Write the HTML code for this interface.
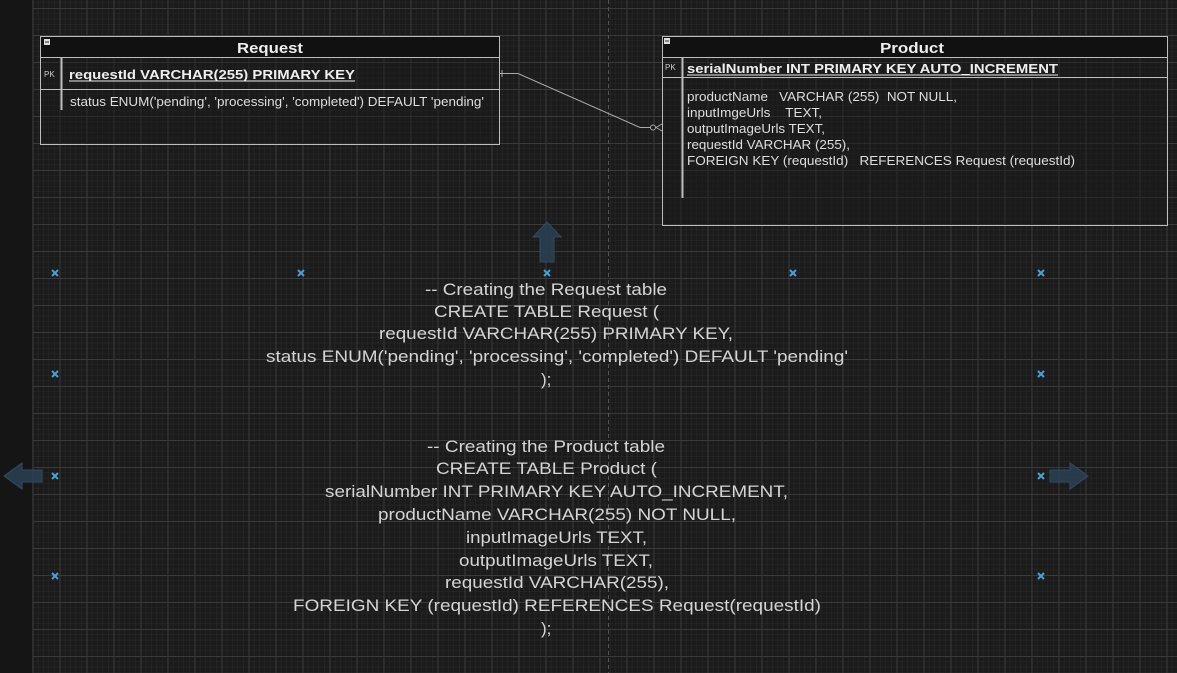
<!DOCTYPE html>
<html><head><meta charset="utf-8"><style>
html,body{margin:0;padding:0;width:1177px;height:673px;overflow:hidden;background:#1b1b1b}
svg{display:block}
text{font-family:"Liberation Sans",Arial,sans-serif}
</style></head><body>
<svg width="1177" height="673" viewBox="0 0 1177 673" xmlns="http://www.w3.org/2000/svg">
<defs>
<pattern id="minor" x="5.4" y="2.6" width="5.4" height="5.4" patternUnits="userSpaceOnUse">
<path d="M0 0H5.4M0 0V5.4" stroke="#2a2a2a" stroke-width="1" fill="none"/>
</pattern>
<pattern id="major" x="5.5" y="8" width="27" height="27" patternUnits="userSpaceOnUse">
<path d="M0 0.5H27M0.5 0V27" stroke="#3a3a3a" stroke-width="1" fill="none"/>
</pattern>
</defs>
<rect x="0" y="0" width="1177" height="673" fill="#1b1b1b"/>
<rect x="33" y="0" width="1144" height="673" fill="url(#minor)"/>
<rect x="33" y="0" width="1144" height="673" fill="url(#major)"/>
<rect x="0" y="0" width="32" height="673" fill="#151515"/>
<line x1="32.5" y1="0" x2="32.5" y2="673" stroke="#2e2e2e"/>
<line x1="608.5" y1="0" x2="608.5" y2="673" stroke="#555" stroke-dasharray="4 3"/>

<!-- Request table -->
<rect x="40.5" y="36.5" width="459" height="108" fill="#181818" fill-opacity="0.4" stroke="#bdbdbd"/>
<rect x="41" y="37" width="458" height="20" fill="#111"/>
<line x1="40" y1="57.5" x2="500" y2="57.5" stroke="#bdbdbd"/>
<line x1="40" y1="89.5" x2="500" y2="89.5" stroke="#bdbdbd"/>
<line x1="61.5" y1="57" x2="61.5" y2="110" stroke="#bdbdbd" stroke-width="2"/>
<rect x="44" y="39" width="6" height="6" fill="#ddd"/><rect x="45" y="41.5" width="4" height="1" fill="#333"/>
<text x="237" y="53" font-size="15" font-weight="bold" fill="#eee" textLength="66" lengthAdjust="spacingAndGlyphs">Request</text>
<text x="44" y="77" font-size="8" fill="#ccc">PK</text>
<text x="69" y="79" font-size="13" font-weight="bold" fill="#eee" textLength="286" lengthAdjust="spacingAndGlyphs"> requestId VARCHAR(255) PRIMARY KEY</text>
<line x1="69" y1="81" x2="355" y2="81" stroke="#eee"/>
<text x="70" y="106" font-size="12.5" fill="#ddd" textLength="414" lengthAdjust="spacingAndGlyphs">status ENUM('pending', 'processing', 'completed') DEFAULT 'pending'</text>

<!-- Product table -->
<rect x="662.5" y="36.5" width="505" height="189" fill="#181818" fill-opacity="0.4" stroke="#bdbdbd"/>
<rect x="663" y="37" width="504" height="20" fill="#111"/>
<line x1="662" y1="57.5" x2="1168" y2="57.5" stroke="#bdbdbd"/>
<line x1="662" y1="77.5" x2="1168" y2="77.5" stroke="#bdbdbd"/>
<line x1="682.5" y1="57" x2="682.5" y2="198" stroke="#bdbdbd" stroke-width="2"/>
<rect x="664" y="38" width="6" height="6" fill="#ddd"/><rect x="665" y="40.5" width="4" height="1" fill="#333"/>
<text x="880" y="53" font-size="15" font-weight="bold" fill="#eee" textLength="64" lengthAdjust="spacingAndGlyphs">Product</text>
<text x="665" y="70" font-size="8" fill="#ccc">PK</text>
<text x="687" y="73" font-size="13" font-weight="bold" fill="#eee" textLength="371" lengthAdjust="spacingAndGlyphs">serialNumber INT PRIMARY KEY AUTO_INCREMENT</text>
<line x1="687" y1="75" x2="1058" y2="75" stroke="#eee"/>
<g font-size="12.5" fill="#ddd">
<text x="687" y="101" xml:space="preserve" textLength="270" lengthAdjust="spacingAndGlyphs">productName   VARCHAR (255)  NOT NULL,</text>
<text x="687" y="117" xml:space="preserve" textLength="135" lengthAdjust="spacingAndGlyphs">inputImgeUrls    TEXT,</text>
<text x="687" y="133" textLength="138" lengthAdjust="spacingAndGlyphs">outputImageUrls TEXT,</text>
<text x="687" y="149" textLength="163" lengthAdjust="spacingAndGlyphs">requestId VARCHAR (255),</text>
<text x="687" y="165" xml:space="preserve" textLength="388" lengthAdjust="spacingAndGlyphs">FOREIGN KEY (requestId)   REFERENCES Request (requestId)</text>
</g>

<!-- connector -->
<path d="M500 73.5 H518 L640 127.5 H655" fill="none" stroke="#aaa" stroke-width="1"/>
<line x1="502" y1="70" x2="502" y2="77" stroke="#aaa"/>
<circle cx="653" cy="127.5" r="2.5" fill="#1b1b1b" stroke="#aaa"/>
<path d="M656 127.5 L662 124 M656 127.5 L662 131" stroke="#aaa" fill="none"/>

<!-- arrows -->
<path d="M540 262 V237 H533 L547 222 L561 237 H554 V262 Z" fill="#2a3f52" stroke="#34506a" opacity="0.9"/>
<path d="M42 470 H22 V463 L4 476 L22 489 V482 H42 Z" fill="#2a3f52" stroke="#34506a" opacity="0.9"/>
<path d="M1050 470 H1070 V463 L1088 476 L1070 489 V482 H1050 Z" fill="#2a3f52" stroke="#34506a" opacity="0.9"/>

<!-- x markers -->
<g stroke="#4a9fd6" stroke-width="2">
<path d="M52 270l6 6M58 270l-6 6"/><path d="M298 270l6 6M304 270l-6 6"/><path d="M544 270l6 6M550 270l-6 6"/>
<path d="M790 270l6 6M796 270l-6 6"/><path d="M1038 270l6 6M1044 270l-6 6"/>
<path d="M52 371l6 6M58 371l-6 6"/><path d="M1038 371l6 6M1044 371l-6 6"/>
<path d="M52 473l6 6M58 473l-6 6"/><path d="M1038 473l6 6M1044 473l-6 6"/>
<path d="M52 573l6 6M58 573l-6 6"/><path d="M1038 573l6 6M1044 573l-6 6"/>
</g>

<!-- SQL text -->
<g font-size="17" fill="#d4d4d4" lengthAdjust="spacingAndGlyphs">
<text x="425" y="295" textLength="242" lengthAdjust="spacingAndGlyphs">-- Creating the Request table</text>
<text x="434" y="317" textLength="225" lengthAdjust="spacingAndGlyphs">CREATE TABLE Request (</text>
<text x="379" y="339" textLength="354" lengthAdjust="spacingAndGlyphs">requestId VARCHAR(255) PRIMARY KEY,</text>
<text x="266" y="362" textLength="582" lengthAdjust="spacingAndGlyphs">status ENUM('pending', 'processing', 'completed') DEFAULT 'pending'</text>
<text x="541" y="385">);</text>
<text x="427" y="452" textLength="238" lengthAdjust="spacingAndGlyphs">-- Creating the Product table</text>
<text x="436" y="474" textLength="221" lengthAdjust="spacingAndGlyphs">CREATE TABLE Product (</text>
<text x="325" y="497" textLength="463" lengthAdjust="spacingAndGlyphs">serialNumber INT PRIMARY KEY AUTO_INCREMENT,</text>
<text x="378" y="520" textLength="358" lengthAdjust="spacingAndGlyphs">productName VARCHAR(255) NOT NULL,</text>
<text x="466" y="543" textLength="181" lengthAdjust="spacingAndGlyphs">inputImageUrls TEXT,</text>
<text x="459" y="566" textLength="194" lengthAdjust="spacingAndGlyphs">outputImageUrls TEXT,</text>
<text x="445" y="588" textLength="224" lengthAdjust="spacingAndGlyphs">requestId VARCHAR(255),</text>
<text x="293" y="611" textLength="528" lengthAdjust="spacingAndGlyphs">FOREIGN KEY (requestId) REFERENCES Request(requestId)</text>
<text x="541" y="634">);</text>
</g>
</svg>
</body></html>
